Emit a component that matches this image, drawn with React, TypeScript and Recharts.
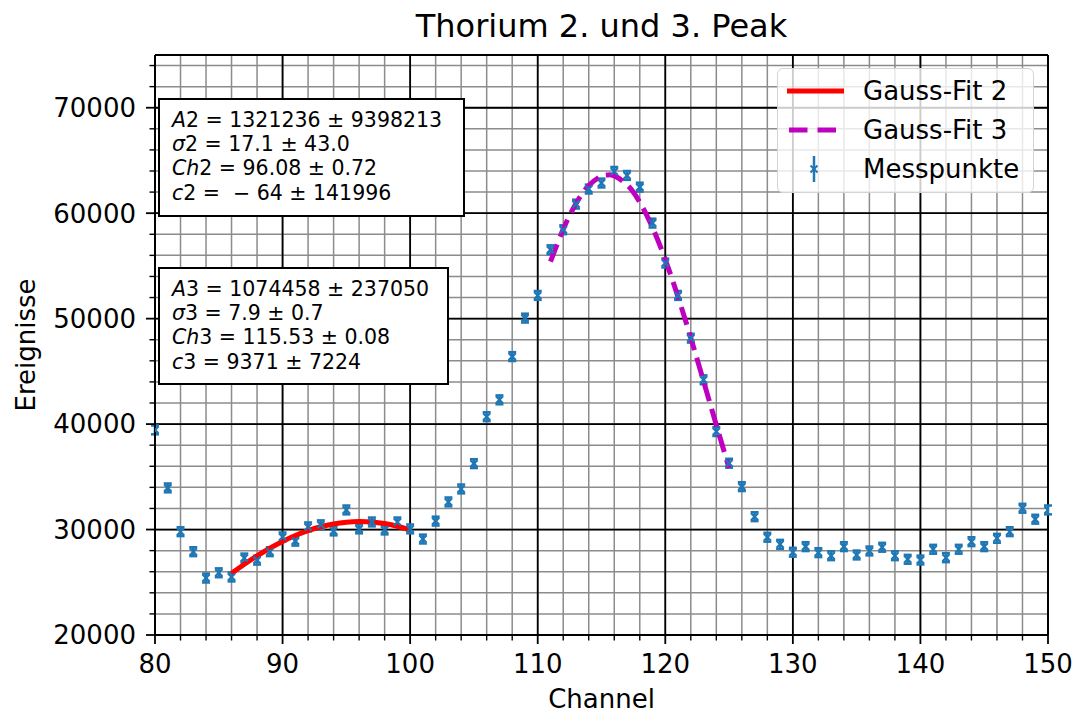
import React from 'react'
import {
  ComposedChart,
  Line,
  Scatter,
  ErrorBar,
  XAxis,
  YAxis,
  CartesianGrid,
  ReferenceLine,
  Legend,
} from 'recharts'

const FONT = '"DejaVu Sans", Verdana, sans-serif'
const BLUE = '#1f77b4'
const MAGENTA = '#bf00bf'

// Messpunkte
const channels = [
  80, 81, 82, 83, 84, 85, 86, 87, 88, 89, 90, 91, 92, 93, 94, 95, 96, 97, 98, 99,
  100, 101, 102, 103, 104, 105, 106, 107, 108, 109, 110, 111, 112, 113, 114, 115, 116, 117, 118, 119,
  120, 121, 122, 123, 124, 125, 126, 127, 128, 129, 130, 131, 132, 133, 134, 135, 136, 137, 138, 139,
  140, 141, 142, 143, 144, 145, 146, 147, 148, 149, 150,
]
const counts = [
  39450, 33950, 29800, 27900, 25400, 25900, 25500, 27300, 27100, 27900, 29300, 28900, 30250, 30450, 29870, 31860, 30060, 30720, 29960, 30720,
  30060, 29100, 30800, 32620, 33850, 36250, 40700, 42300, 46400, 50050, 52200, 56530, 58430, 60860, 62290, 62860, 63960, 63580, 62470, 59060,
  55270, 52200, 48150, 44200, 39290, 36290, 34070, 31220, 29270, 28600, 27850, 28380, 27810, 27520, 28380, 27590, 27970, 28320, 27520, 27180,
  27110, 28130, 27330, 28130, 28850, 28380, 29170, 29800, 32020, 30980, 31860,
]
const countErrors = [
  420, 420, 420, 420, 420, 420, 420, 420, 420, 420, 420, 420, 420, 420, 420, 420, 420, 420, 420, 420,
  420, 420, 420, 420, 420, 420, 420, 420, 420, 420, 420, 420, 420, 420, 420, 420, 420, 420, 420, 420,
  420, 420, 420, 420, 420, 420, 420, 420, 420, 420, 420, 420, 420, 420, 420, 420, 420, 420, 420, 420,
  420, 420, 420, 420, 420, 420, 420, 420, 420, 420, 420,
]

// Gauss-Fit 2 curve
const fit2Channels = [86, 87, 88, 89, 90, 91, 92, 93, 94, 95, 96, 97, 98, 99, 100]
const fit2Values = [25845, 26707, 27505, 28229, 28872, 29430, 29896, 30265, 30533, 30699, 30761, 30716, 30567, 30315, 29961]

// Gauss-Fit 3 curve
const fit3Channels = [111, 112, 113, 114, 115, 115.5, 116, 117, 118, 119, 120, 121, 122, 123, 124, 125]
const fit3Values = [55404, 58475, 60918, 62622, 63508, 63630, 63534, 62699, 61042, 58640, 55604, 52066, 48171, 44069, 39909, 35823]

const xMajorTicks = [80, 90, 100, 110, 120, 130, 140, 150]
const xMinorTicks = [82, 84, 86, 88, 92, 94, 96, 98, 102, 104, 106, 108, 112, 114, 116, 118, 122, 124, 126, 128, 132, 134, 136, 138, 142, 144, 146, 148]
const yMajorTicks = [20000, 30000, 40000, 50000, 60000, 70000]
const yMinorTicks = [22000, 24000, 26000, 28000, 32000, 34000, 36000, 38000, 42000, 44000, 46000, 48000, 52000, 54000, 56000, 58000, 62000, 64000, 66000, 68000, 72000, 74000]

const fit2Lines = [
  ['A', '2 = 1321236 ± 9398213'],
  ['σ', '2 = 17.1 ± 43.0'],
  ['Ch', '2 = 96.08 ± 0.72'],
  ['c', '2 =  − 64 ± 141996'],
]
const fit3Lines = [
  ['A', '3 = 1074458 ± 237050'],
  ['σ', '3 = 7.9 ± 0.7'],
  ['Ch', '3 = 115.53 ± 0.08'],
  ['c', '3 = 9371 ± 7224'],
]

const points = channels.map((ch, i) => ({ ch, v: counts[i], err: countErrors[i] }))
const fit2Data = fit2Channels.map((ch, i) => ({ ch, v: fit2Values[i] }))
const fit3Data = fit3Channels.map((ch, i) => ({ ch, v: fit3Values[i] }))
const xAllTicks = [...xMajorTicks, ...xMinorTicks].sort((a, b) => a - b)
const yAllTicks = [...yMajorTicks, ...yMinorTicks].sort((a, b) => a - b)

function XTick({ x, y, payload }: any) {
  const major = xMajorTicks.includes(payload.value)
  return (
    <g>
      <line x1={x} x2={x} y1={y} y2={y + (major ? 9 : 5.5)} stroke="#000" strokeWidth={major ? 1.8 : 1.4} />
      {major && (
        <text x={x} y={y + 38} textAnchor="middle" fontSize={26} fontFamily={FONT} fill="#000">
          {payload.value}
        </text>
      )}
    </g>
  )
}

function YTick({ x, y, payload }: any) {
  const major = yMajorTicks.includes(payload.value)
  return (
    <g>
      <line x1={x - (major ? 9 : 5.5)} x2={x} y1={y} y2={y} stroke="#000" strokeWidth={major ? 1.8 : 1.4} />
      {major && (
        <text x={x - 19} y={y} dy="0.36em" textAnchor="end" fontSize={26} fontFamily={FONT} fill="#000">
          {payload.value}
        </text>
      )}
    </g>
  )
}

function YLabel({ viewBox }: any) {
  const cx = 35
  const cy = viewBox.y + viewBox.height / 2
  return (
    <text x={cx} y={cy} transform={`rotate(-90 ${cx} ${cy})`} textAnchor="middle" fontSize={26} fontFamily={FONT} fill="#000">
      Ereignisse
    </text>
  )
}

function XMarker({ cx, cy }: any) {
  if (cx == null || cy == null) return null
  return (
    <g stroke={BLUE} strokeWidth={2.2}>
      <line x1={cx - 3.5} y1={cy - 3.5} x2={cx + 3.5} y2={cy + 3.5} />
      <line x1={cx - 3.5} y1={cy + 3.5} x2={cx + 3.5} y2={cy - 3.5} />
    </g>
  )
}

function LegendBox() {
  return (
    <div
      style={{
        position: 'relative',
        width: 257,
        height: 125,
        boxSizing: 'border-box',
        border: '1.5px solid #d4d4d4',
        borderRadius: 6,
        background: 'rgba(255,255,255,0.8)',
        fontFamily: FONT,
        fontSize: 26,
        color: '#000',
      }}
    >
      <svg width={257} height={125} style={{ position: 'absolute', left: 0, top: 0 }}>
        <line x1={9} x2={66} y1={22} y2={22} stroke="#ff0000" strokeWidth={5} />
        <line x1={11} x2={68} y1={61} y2={61} stroke={MAGENTA} strokeWidth={5} strokeDasharray="18.5 10" />
        <g stroke={BLUE} strokeWidth={2}>
          <line x1={36} x2={36} y1={87} y2={113} strokeWidth={2.5} />
          <line x1={32.5} y1={96.5} x2={39.5} y2={103.5} />
          <line x1={32.5} y1={103.5} x2={39.5} y2={96.5} />
        </g>
      </svg>
      {['Gauss-Fit 2', 'Gauss-Fit 3', 'Messpunkte'].map((t, i) => (
        <span
          key={t}
          style={{ position: 'absolute', left: 85, top: 7 + i * 39, lineHeight: '30px', whiteSpace: 'nowrap' }}
        >
          {t}
        </span>
      ))}
    </div>
  )
}

function ParamBox({ lines, left, top, width, height }: any) {
  return (
    <div
      style={{
        position: 'absolute',
        left,
        top,
        width,
        height,
        boxSizing: 'border-box',
        border: '2px solid #000',
        background: '#fff',
        fontFamily: FONT,
        fontSize: 20.5,
        color: '#000',
        padding: '8px 0 0 12px',
      }}
    >
      {lines.map((l: string[]) => (
        <div key={l[0]} style={{ lineHeight: '24.2px', whiteSpace: 'pre' }}>
          <i>{l[0]}</i>
          {l[1]}
        </div>
      ))}
    </div>
  )
}

export default function App() {
  return (
    <div style={{ position: 'absolute', left: 0, top: 0, width: 1076, height: 713, background: '#fff' }}>
      <ComposedChart width={1076} height={713} margin={{ top: 55, right: 28, left: 0, bottom: 0 }}>
        <CartesianGrid stroke="#8c8c8c" strokeWidth={1.5} />
        <XAxis
          dataKey="ch"
          type="number"
          domain={[80, 150]}
          ticks={xAllTicks}
          interval={0}
          height={78}
          tickSize={0}
          tickMargin={0}
          tickLine={false}
          tick={(p: any) => <XTick {...p} />}
          axisLine={{ stroke: '#000', strokeWidth: 2 }}
          allowDataOverflow
          label={{ value: 'Channel', position: 'insideBottom', offset: 5, fontSize: 26, fontFamily: FONT, fill: '#000' }}
        />
        <YAxis
          type="number"
          domain={[20000, 75000]}
          ticks={yAllTicks}
          interval={0}
          width={155}
          tickSize={0}
          tickMargin={0}
          tickLine={false}
          tick={(p: any) => <YTick {...p} />}
          axisLine={{ stroke: '#000', strokeWidth: 2 }}
          allowDataOverflow
          label={<YLabel />}
        />
        {xMajorTicks.map((v) => (
          <ReferenceLine key={'x' + v} x={v} stroke="#000" strokeWidth={1.8} />
        ))}
        {yMajorTicks.map((v) => (
          <ReferenceLine key={'y' + v} y={v} stroke="#000" strokeWidth={1.8} />
        ))}
        <ReferenceLine y={75000} stroke="#000" strokeWidth={2} />
        <ReferenceLine x={150} stroke="#000" strokeWidth={2} />
        <Scatter name="Messpunkte" data={points} dataKey="v" shape={<XMarker />} isAnimationActive={false}>
          <ErrorBar dataKey="err" direction="y" width={4} stroke={BLUE} strokeWidth={2.5} isAnimationActive={false} />
        </Scatter>
        <Line
          name="Gauss-Fit 2"
          data={fit2Data}
          dataKey="v"
          type="natural"
          stroke="#ff0000"
          strokeWidth={5}
          dot={false}
          activeDot={false}
          isAnimationActive={false}
        />
        <Line
          name="Gauss-Fit 3"
          data={fit3Data}
          dataKey="v"
          type="natural"
          stroke={MAGENTA}
          strokeWidth={5}
          strokeDasharray="18.5 8"
          dot={false}
          activeDot={false}
          isAnimationActive={false}
        />
        <Legend
          layout="horizontal"
          verticalAlign="middle"
          align="center"
          content={() => <LegendBox />}
          wrapperStyle={{ left: 777, top: 68, width: 257, height: 125 }}
        />
      </ComposedChart>
      <div
        style={{
          position: 'absolute',
          left: 155,
          width: 893,
          top: 8,
          textAlign: 'center',
          fontFamily: FONT,
          fontSize: 32,
          lineHeight: '37px',
          color: '#000',
          whiteSpace: 'nowrap',
        }}
      >
        Thorium 2. und 3. Peak
      </div>
      <ParamBox lines={fit2Lines} left={158} top={98} width={307} height={119} />
      <ParamBox lines={fit3Lines} left={158} top={267} width={291} height={118} />
    </div>
  )
}
